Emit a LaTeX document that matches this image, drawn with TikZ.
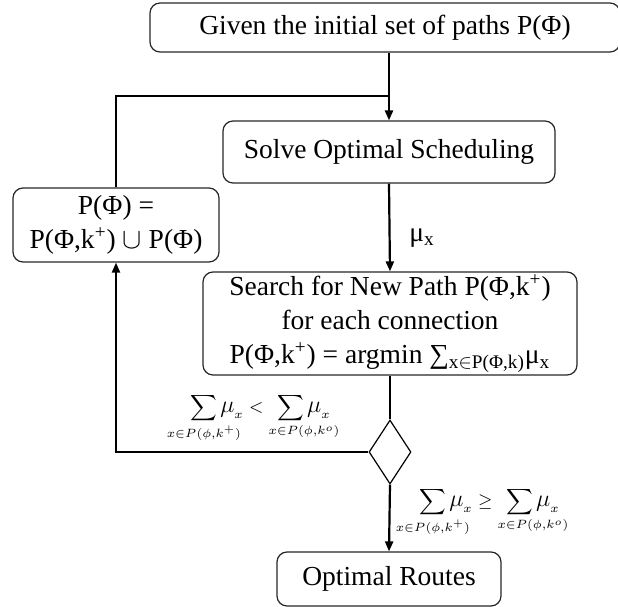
\documentclass[tikz,border=0pt]{standalone}
\usepackage{mathtools}
\usepackage{fontspec}
\setmainfont{Liberation Serif}
\usetikzlibrary{shapes.geometric,positioning,arrows.meta}
\newcommand{\bigmu}{\mbox{\fontsize{13}{14}\selectfont$\mu$}}
\tikzset{
  box/.style={draw=black!85, line width=0.6pt, rounded corners=5pt, align=center, inner sep=0pt},
  flow/.style={line width=1.1pt},
  cond/.style={font=\fontsize{8.6}{10}\selectfont, inner sep=0pt},
}
\begin{document}
\begin{tikzpicture}[font=\fontsize{13.75}{17}\selectfont, line join=miter, >={Triangle[length=5pt,width=4pt]}, x=0.5pt, y=-0.5pt]
\useasboundingbox (0,0) rectangle (618,607);
% boxes
\node[box, minimum width=235pt, minimum height=24.5pt] (init) at (385,27.5) {Given the initial set of paths P(Φ)};
\node[box, minimum width=166pt, minimum height=31pt] (solve) at (389,152) {Solve Optimal Scheduling};
\node[box, minimum width=103pt, minimum height=37pt] (upd) at (116,225) {P(Φ) =\\P(Φ,k\textsuperscript{+}) $\cup$ P(Φ)};
\node[box, minimum width=187pt, minimum height=51.5pt] (search) at (390,323.5) {Search for New Path P(Φ,k\textsuperscript{+})\\for each connection\\P(Φ,k\textsuperscript{+}) = argmin ∑\textsubscript{x$\in$P(Φ,k)}μ\textsubscript{x}};
\node[draw, diamond, line width=0.6pt, minimum width=21pt, minimum height=32pt, inner sep=0pt] (test) at (390,452) {};
\node[box, minimum width=112pt, minimum height=27pt] (routes) at (389,579) {Optimal Routes};
% conditions
\node[cond] (less) at (265,418) {$\displaystyle\sum_{\mathclap{x\in P(\phi,k^{+})}}\bigmu_x < \underset{x\in P(\phi,k^{o})}{\sum\bigmu_x}$};
\node[cond] (geq) at (494,512) {$\displaystyle\sum_{\mathclap{x\in P(\phi,k^{+})}}\bigmu_x \geq \underset{x\in P(\phi,k^{o})}{\sum\bigmu_x}$};
% connectors
\coordinate (loop) at (0,96);
\draw[flow,->] (init.south -| solve.north) -- (solve.north);
\draw[flow] (upd.north) |- (loop -| solve.north);
\draw[flow,->] (solve.south) -- node[pos=0.62, right=6pt] (price) {μ\textsubscript{x}} (search.north);
\draw[line width=0.6pt] (search.south) -- (test.north);
\draw[flow,->] (test.west) -| (upd.south);
\draw[flow,->] (test.south) -- (routes.north);
\end{tikzpicture}
\end{document}
